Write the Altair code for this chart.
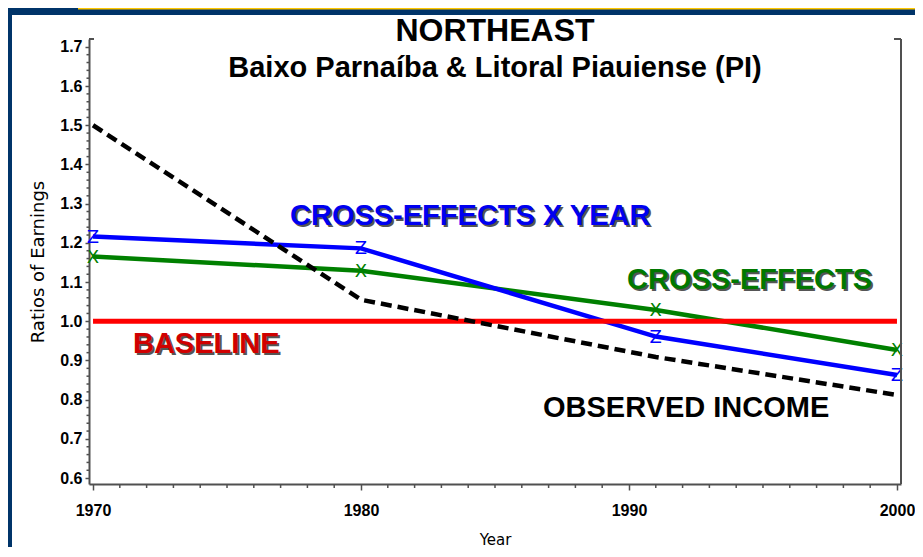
import altair as alt
import pandas as pd

# ---------------- data ----------------
years = [1970, 1980, 1991, 2000]
observed_income = [1.500, 1.055, 0.909, 0.812]
cross_effects = [1.165, 1.129, 1.029, 0.927]
cross_effects_x_year = [1.216, 1.186, 0.961, 0.863]
baseline = [1.0, 1.0, 1.0, 1.0]

x_major = [1970, 1980, 1990, 2000]
x_minor = [1971, 1972, 1973, 1974, 1975, 1976, 1977, 1978, 1979,
           1981, 1982, 1983, 1984, 1985, 1986, 1987, 1988, 1989,
           1991, 1992, 1993, 1994, 1995, 1996, 1997, 1998, 1999]
y_major = [0.6, 0.7, 0.8, 0.9, 1.0, 1.1, 1.2, 1.3, 1.4, 1.5, 1.6, 1.7]
y_minor = [0.62, 0.64, 0.66, 0.68, 0.72, 0.74, 0.76, 0.78, 0.82, 0.84, 0.86, 0.88,
           0.92, 0.94, 0.96, 0.98, 1.02, 1.04, 1.06, 1.08, 1.12, 1.14, 1.16, 1.18,
           1.22, 1.24, 1.26, 1.28, 1.32, 1.34, 1.36, 1.38, 1.42, 1.44, 1.46, 1.48,
           1.52, 1.54, 1.56, 1.58, 1.62, 1.64, 1.66, 1.68]

title_text = "NORTHEAST"
subtitle_text = "Baixo Parnaíba & Litoral Piauiense (PI)"

label_text = ["CROSS-EFFECTS X YEAR", "CROSS-EFFECTS", "BASELINE", "OBSERVED INCOME"]
label_x = [1977.35, 1989.93, 1971.49, 1986.79]
label_y = [1.269, 1.1055, 0.942, 0.780]
label_color = ["#0000F0", "#007800", "#D00000", "#000000"]
label_shadow = ["yes", "yes", "yes", "no"]

# ---------------- layout ----------------
W, H = 812, 445
PAD = {"left": 81, "top": 31, "right": 14, "bottom": 63}
AX = "#505050"
FONT = "Liberation Sans"

xs = alt.Scale(domain=[1969.85, 2000.15], nice=False, zero=False)
ys = alt.Scale(domain=[0.585, 1.72], nice=False, zero=False)

series = pd.DataFrame({
    "year": years * 4,
    "value": observed_income + cross_effects + cross_effects_x_year + baseline,
    "series": ["OBSERVED INCOME"] * 4 + ["CROSS-EFFECTS"] * 4
              + ["CROSS-EFFECTS X YEAR"] * 4 + ["BASELINE"] * 4,
})
labels = pd.DataFrame({"text": label_text, "x": label_x, "y": label_y,
                       "color": label_color, "shadow": label_shadow})

x_axis = alt.Axis(values=x_major, format="d", title="Year", grid=False,
                  tickSize=6, tickColor=AX, tickWidth=1.5,
                  domainColor=AX, domainWidth=2,
                  labelFont=FONT, labelFontSize=16, labelFontWeight="bold",
                  labelColor="black", labelPadding=12, labelFlush=False,
                  titleFont="DejaVu Sans", titleFontSize=15, titleFontWeight="normal",
                  titleColor="black", titlePadding=14)
y_axis = alt.Axis(values=y_major, format=".1f", title="Ratios of Earnings", grid=False,
                  tickSize=4, tickColor=AX, tickWidth=1.5,
                  domainColor=AX, domainWidth=2,
                  labelFont=FONT, labelFontSize=16, labelFontWeight="bold",
                  labelColor="black", labelPadding=3, labelFlush=False,
                  titleFont="DejaVu Sans", titleFontSize=18, titleFontWeight="normal",
                  titleColor="black", titlePadding=12)


def X(f):
    return alt.X(f, type="quantitative", scale=xs, axis=x_axis)


def Y(f):
    return alt.Y(f, type="quantitative", scale=ys, axis=y_axis)


# frame decoration (navy border with yellow line)
deco = alt.Chart(pd.DataFrame({"d": [0]}))
left_strip = deco.mark_rule(color="#003469", strokeWidth=4).encode(
    x=alt.value(-PAD["left"] + 2), y=alt.value(-PAD["top"]), y2=alt.value(H + PAD["bottom"]))
top_band = deco.mark_rule(color="#003469", strokeWidth=7).encode(
    x=alt.value(-PAD["left"]), x2=alt.value(W + PAD["right"]), y=alt.value(-PAD["top"] + 3.5))
yellow = deco.mark_rule(color="#FFC800", strokeWidth=1.5).encode(
    x=alt.value(-11), x2=alt.value(W + PAD["right"]), y=alt.value(-PAD["top"] + 0.75))
right_frame = deco.mark_rule(color=AX, strokeWidth=2).encode(
    x=alt.value(W), y=alt.value(0), y2=alt.value(H))
stub_l = deco.mark_rule(color=AX, strokeWidth=2).encode(
    x=alt.value(0), x2=alt.value(5), y=alt.value(0))
stub_r = deco.mark_rule(color=AX, strokeWidth=2).encode(
    x=alt.value(W - 7), x2=alt.value(W), y=alt.value(0))

# minor ticks
xminor = alt.Chart(pd.DataFrame({"v": x_minor})).mark_rule(color=AX, strokeWidth=1.5).encode(
    x=X("v"), y=alt.value(H), y2=alt.value(H + 4))
yminor = alt.Chart(pd.DataFrame({"v": y_minor})).mark_rule(color=AX, strokeWidth=1.5).encode(
    y=Y("v"), x=alt.value(-2.5), x2=alt.value(0))

base = alt.Chart(series)


def line(name, color, width, dash=None):
    kw = dict(color=color, strokeWidth=width)
    if dash:
        kw["strokeDash"] = dash
    return base.transform_filter(alt.datum.series == name).mark_line(**kw).encode(
        x=X("year"), y=Y("value"), order="year:Q")


green = line("CROSS-EFFECTS", "#008000", 4.5)
blue = line("CROSS-EFFECTS X YEAR", "#0000FF", 4.5)
red = line("BASELINE", "#FF0000", 5)
black = line("OBSERVED INCOME", "#000000", 4.5, [11, 6])

mk_green = base.transform_filter(alt.datum.series == "CROSS-EFFECTS").mark_text(
    text="X", font="DejaVu Sans", fontSize=18, color="#008000", baseline="middle",
    align="center", dy=1).encode(x=X("year"), y=Y("value"))
mk_blue = base.transform_filter(alt.datum.series == "CROSS-EFFECTS X YEAR").mark_text(
    text="Z", font="DejaVu Sans", fontSize=18, color="#0000FF", baseline="middle",
    align="center", dy=1).encode(x=X("year"), y=Y("value"))

lab = alt.Chart(labels)
shadow = lab.transform_filter(alt.datum.shadow == "yes").mark_text(
    font=FONT, fontSize=29, fontWeight="bold", align="left", baseline="middle",
    color="#555555", dx=2, dy=2).encode(x=X("x"), y=Y("y"), text="text:N")
lab_main = lab.mark_text(
    font=FONT, fontSize=29, fontWeight="bold", align="left", baseline="middle").encode(
    x=X("x"), y=Y("y"), text="text:N",
    color=alt.Color("color:N", scale=None))

chart = alt.layer(
    left_strip, top_band, yellow,
    green, blue, red, black,
    mk_green, mk_blue,
    right_frame, stub_l, stub_r, xminor, yminor,
    shadow, lab_main,
).properties(
    width=W, height=H,
    autosize=alt.AutoSizeParams(type="none"),
    padding=PAD,
    background="white",
    title=alt.TitleParams(
        title_text, subtitle=subtitle_text,
        font=FONT, fontSize=32, fontWeight=700, color="black",
        subtitleFont=FONT, subtitleFontSize=29, subtitleFontWeight=700,
        subtitleColor="black", subtitlePadding=6, anchor="middle", offset=-78),
).configure_view(stroke=None)

chart.save("out.html", embed_options={"renderer": "svg", "actions": False})
